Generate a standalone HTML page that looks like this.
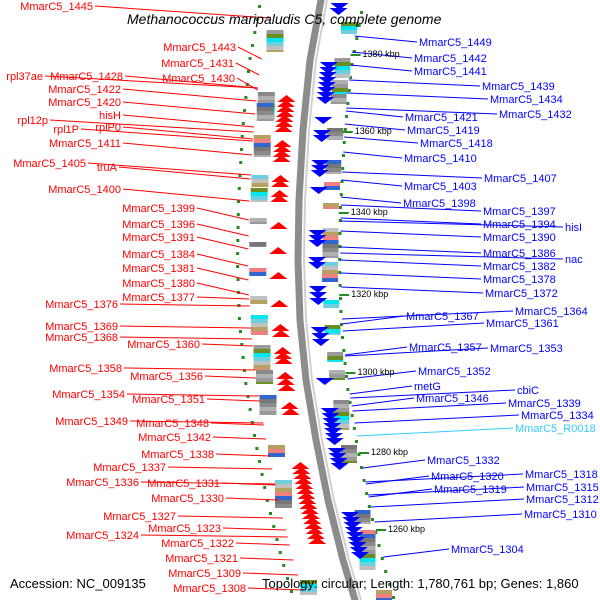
<!DOCTYPE html>
<html><head><meta charset="utf-8"><style>
html,body{margin:0;padding:0;background:#fff}
svg{display:block;font-family:"Liberation Sans",sans-serif}
</style></head><body>
<svg id="c" width="600" height="600" viewBox="0 0 600 600"></svg>
<script>
const leftLabels=[["MmarC5_1445",93,10],["MmarC5_1443",236,51],["MmarC5_1431",234,67],["rpl37ae",43,80],["MmarC5_1428",123,80],["MmarC5_1430",235,82],["MmarC5_1422",121,93],["MmarC5_1420",121,106],["hisH",121,119],["rpl12p",48,124],["rplP0",121,131],["rpl1P",79,133],["MmarC5_1411",121,147],["MmarC5_1405",86,167],["truA",117,171],["MmarC5_1400",121,193],["MmarC5_1399",195,212],["MmarC5_1396",195,228],["MmarC5_1391",195,241],["MmarC5_1384",195,258],["MmarC5_1381",195,272],["MmarC5_1380",195,287],["MmarC5_1377",195,301],["MmarC5_1376",118,308],["MmarC5_1369",118,330],["MmarC5_1368",118,341],["MmarC5_1360",200,348],["MmarC5_1358",122,372],["MmarC5_1356",203,380],["MmarC5_1354",125,398],["MmarC5_1351",205,403],["MmarC5_1349",128,425],["MmarC5_1348",209,427],["MmarC5_1342",211,441],["MmarC5_1338",214,458],["MmarC5_1337",166,471],["MmarC5_1336",139,486],["MmarC5_1331",220,487],["MmarC5_1330",224,502],["MmarC5_1327",176,520],["MmarC5_1323",221,532],["MmarC5_1324",139,539],["MmarC5_1322",234,547],["MmarC5_1321",238,562],["MmarC5_1309",241,577],["MmarC5_1308",246,592]];
const rightLabels=[["MmarC5_1449",419,46],["MmarC5_1442",414,62],["MmarC5_1441",414,75],["MmarC5_1439",482,90],["MmarC5_1434",490,103],["MmarC5_1421",405,121],["MmarC5_1432",499,118],["MmarC5_1419",407,134],["MmarC5_1418",420,147],["MmarC5_1410",404,162],["MmarC5_1407",484,182],["MmarC5_1403",404,190],["MmarC5_1398",403,207],["MmarC5_1397",483,215],["MmarC5_1394",483,228],["hisI",565,231],["MmarC5_1390",483,241],["MmarC5_1386",483,257],["nac",565,263],["MmarC5_1382",483,270],["MmarC5_1378",483,283],["MmarC5_1372",485,297],["MmarC5_1367",406,320],["MmarC5_1364",515,315],["MmarC5_1361",486,327],["MmarC5_1357",409,351],["MmarC5_1353",490,352],["MmarC5_1352",418,375],["metG",414,390],["cbiC",517,394],["MmarC5_1346",416,402],["MmarC5_1339",508,407],["MmarC5_1334",521,419],["MmarC5_R0018",515,432],["MmarC5_1332",427,464],["MmarC5_1320",431,480],["MmarC5_1318",525,478],["MmarC5_1319",434,493],["MmarC5_1315",526,491],["MmarC5_1312",526,503],["MmarC5_1310",524,518],["MmarC5_1304",451,553]];
const kbpLabels=["1380 kbp","1360 kbp","1340 kbp","1320 kbp","1300 kbp","1280 kbp","1260 kbp"];
const kbpY=[57,134,215,297,375,455,532];
const redArrowY=[95,100,105,110,115,120,125,140,145,150,155,175,180,190,195,222,247,272,300,324,330,347,352,357,372,378,384,402,408,462,467,472,477,482,487,492,497,502,507,512,517,522,527,532,537];
const blueArrowY=[3,8,62,67,72,77,82,87,92,97,117,130,135,160,165,170,187,230,235,240,257,262,286,292,298,327,333,339,378,408,413,418,423,428,433,438,448,453,458,463,512,517,522,527,532,537,542,547,552];
const leftBlockY=[[30,22],[92,28],[103,18],[135,22],[175,12],[188,14],[218,6],[242,5],[268,8],[296,8],[315,20],[345,25],[370,14],[395,20],[445,12],[480,28],[580,15]];
const rightBlockY=[[22,12],[58,20],[80,14],[94,10],[128,12],[160,14],[182,8],[203,6],[228,30],[262,20],[300,8],[325,10],[352,10],[370,10],[400,30],[445,18],[510,14],[530,40],[590,10]];
const palette=["#9a9a9a","#6fcfe0","#f08080","#8a8a8a","#6b8e23","#c0c0c0","#3366cc","#b0b0b0","#00e5ee","#b8a060","#777777"];
const arcPts=[[0,321],[60,310],[130,303],[200,299],[260,298],[320,300],[380,306],[440,316],[500,328],[560,343],[600,355]];
function arcX(y){for(let i=1;i<arcPts.length;i++){if(y<=arcPts[i][0]){const a=arcPts[i-1],b=arcPts[i];return a[1]+(b[1]-a[1])*(y-a[0])/(b[0]-a[0]);}}return 355;}
const S="http://www.w3.org/2000/svg",svg=document.getElementById('c');
function mk(t,at,p){const e=document.createElementNS(S,t);for(const k in at)e.setAttribute(k,at[k]);(p||svg).appendChild(e);return e;}
let d="";for(let y=-5;y<=605;y+=5){d+=(d?"L":"M")+arcX(y)+","+y;}
let a1=mk('path',{d:d,fill:'none',stroke:'#8c8c8c','stroke-width':7});


let d2="";for(let y=-5;y<=605;y+=5){d2+=(d2?"L":"M")+(arcX(y)+6)+","+y;}
mk('path',{d:d2,fill:'none',stroke:'#d0d0d0','stroke-width':2});
for(let y=5;y<600;y+=13){mk('rect',{x:arcX(y)-62,y:y,width:3,height:3,fill:'#228b22'});mk('rect',{x:arcX(y)+40,y:y+6,width:3,height:3,fill:'#228b22'});}
leftBlockY.forEach((b,i)=>{const x=arcX(b[0])-49;for(let j=0;j<b[1];j+=4){const r=mk('rect',{x:x,y:b[0]+j,width:17,height:Math.min(4,b[1]-j),fill:palette[(i*3+j)%palette.length]});if(j==0){}}});
rightBlockY.forEach((b,i)=>{const x=arcX(b[0])+24;for(let j=0;j<b[1];j+=4){const r=mk('rect',{x:x,y:b[0]+j,width:16,height:Math.min(4,b[1]-j),fill:palette[(i*7+j+4)%palette.length]});if(j==0){}}});
redArrowY.forEach(y=>{const x=arcX(y)-20;const p=mk('polygon',{points:`${x-9},${y+7} ${x},${y} ${x+9},${y+7}`,fill:'#ff0000'});});
blueArrowY.forEach(y=>{const x=arcX(y)+19;const p=mk('polygon',{points:`${x-9},${y} ${x},${y+7} ${x+9},${y}`,fill:'#0000ff'});});
leftLabels.forEach(l=>{const tx=arcX(l[2])-50;mk('line',{x1:l[1]+2,y1:l[2]-4,x2:tx,y2:l[2]+(l[2]<300?8:-2),stroke:'#ff0000','stroke-width':1});const t=mk('text',{x:l[1],y:l[2],'text-anchor':'end','font-size':11,fill:'#ff0000'});t.textContent=l[0];});
rightLabels.forEach(l=>{const c=l[0]=="MmarC5_R0018"?'#33ccff':'#0000ff';const tx=arcX(l[2])+42;mk('line',{x1:tx,y1:l[2]-(l[2]<300?10:-4),x2:l[1]-2,y2:l[2]-4,stroke:c,'stroke-width':1});const t=mk('text',{x:l[1],y:l[2],'font-size':11,fill:c});t.textContent=l[0];});
kbpLabels.forEach((k,i)=>{const y=kbpY[i];const x=arcX(y)+52;mk('rect',{x:x-12,y:y-3,width:10,height:2,fill:'#228b22'});const t=mk('text',{x:x,y:y,'font-size':9,fill:'#000'});t.textContent=k;});
</script>
<script>
(function(){const S="http://www.w3.org/2000/svg",svg=document.getElementById('c');
function txt(s,x,y,sz,st,name){const t=document.createElementNS(S,'text');t.setAttribute('x',x);t.setAttribute('y',y);t.setAttribute('font-size',sz);if(st)t.setAttribute('font-style',st);t.textContent=s;


svg.appendChild(t);}
txt("Methanococcus maripaludis C5, complete genome",127,24,14,"italic","chart-title");
txt("Accession: NC_009135",10,588,13,null,"accession-label");
txt("Topology: circular; Length: 1,780,761 bp; Genes: 1,860",262,588,13,null,"topology-label");
})();
</script>
</body></html>
